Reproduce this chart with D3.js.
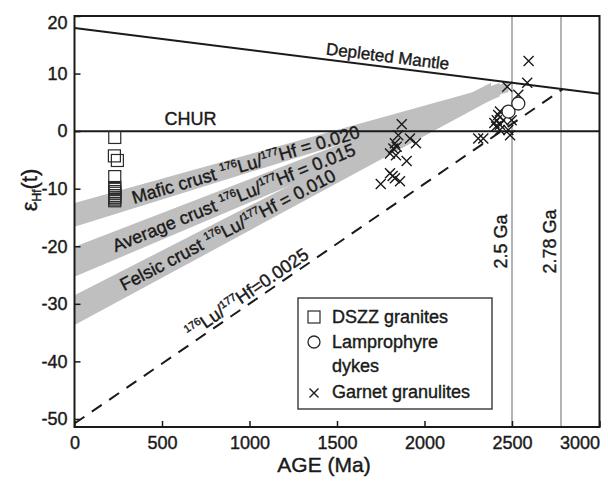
<!DOCTYPE html>
<html><head><meta charset="utf-8">
<script src="https://cdn.jsdelivr.net/npm/d3@7"></script>
<style>
body{margin:0;background:#fff}
svg{display:block}
text{font-family:"Liberation Sans",Arial,Helvetica,sans-serif;fill:#1a1a1a;stroke:#1a1a1a;stroke-width:0.4px}
</style>
</head><body>
<svg id="c" width="608" height="481"></svg>
<script>
// ---------- data ----------
const xTicks=[0,500,1000,1500,2000,2500,3000];
const yTicks=[-50,-40,-30,-20,-10,0,10,20];
const dmAges=[0,3000], dmEps=[17.9,6.5];
const churEps=0;
const lineAges=[0,2790], lineEps=[-50.8,7.3];
const refAges=[2500,2780], refLabels=["2.5 Ga","2.78 Ga"];
const bandNames=["Mafic crust ","Average crust ","Felsic crust "];
const bandRatios=["0.020","0.015","0.010"];
const bandLeftTop=[-12.5,-20.1,-28.5];
const bandLeftBot=[-16.6,-25.3,-33.7];
const bandEndAge=[2480,2430,2380];
const bandEndTop=[8.5,8.4,8.4];
const bandEndBot=[6.8,6.0,5.4];
const bandLabelAge=[329,220,266];
const dszzAge=[230,228,245,230,230,230,230,230,230,230,230,230];
const dszzEps=[-1.1,-4.3,-5.1,-7.9,-9.8,-10.1,-10.5,-10.8,-11.2,-11.5,-11.8,-12.1];
const lampAge=[2480,2536];
const lampEps=[3.4,4.8];
const garnetAge=[1870,1850,1917,1951,1831,1822,1841,1803,1837,1898,1803,1818,1831,1860,1750,
  2595,2473,2587,2536,2431,2413,2399,2431,2450,2498,2489,2307,2336,2431,2421,2479,2409];
const garnetEps=[1.2,-0.7,-1.3,-2.1,-2.1,-3.0,-2.7,-3.9,-4.2,-5.2,-7.3,-7.8,-8.2,-8.7,-9.2,
  12.2,7.7,8.4,6.3,3.4,1.9,1.4,1.1,1.9,1.9,-0.7,-1.3,-1.3,0.2,2.8,0.2,0.8];
const legendLabels=[["DSZZ granites"],["Lamprophyre","dykes"],["Garnet granulites"]];

// ---------- setup ----------
const svg=d3.select("#c");
const L=74.5,R=599.5,T=16,B=427;
const x=d3.scaleLinear().domain([0,3000]).range([L,R]);
const y=d3.scaleLinear().domain([-51.4,20]).range([B,T]);
const ink="#1a1a1a";

// bands
const bandG=svg.append("g");
bandNames.forEach((n,i)=>{
  const pts=[[0,bandLeftTop[i]],[bandEndAge[i],bandEndTop[i]],[bandEndAge[i],bandEndBot[i]],[0,bandLeftBot[i]]];
  bandG.append("path").attr("d",d3.line().x(d=>x(d[0])).y(d=>y(d[1]))(pts)+"Z")
    .attr("fill","#bfbfbf").attr("stroke","none");
});

// reference age lines
refAges.forEach((a,i)=>{
  svg.append("line").attr("x1",x(a)).attr("x2",x(a)).attr("y1",T).attr("y2",B)
    .attr("stroke","#b3b3b3").attr("stroke-width",2);
  svg.append("text").attr("transform",`translate(${x(a)-5},${(T+B)/2+20}) rotate(-90)`)
    .attr("text-anchor","middle").attr("font-size",18).text(refLabels[i]);
});

// CHUR
svg.append("line").attr("x1",x(0)).attr("x2",x(3000)).attr("y1",y(churEps)).attr("y2",y(churEps))
  .attr("stroke",ink).attr("stroke-width",2);
svg.append("text").attr("x",x(663)).attr("y",y(churEps)-6).attr("text-anchor","middle")
  .attr("font-size",18).text("CHUR");

// Depleted mantle
svg.append("line").attr("x1",x(dmAges[0])).attr("y1",y(dmEps[0])).attr("x2",x(dmAges[1])).attr("y2",y(dmEps[1]))
  .attr("stroke",ink).attr("stroke-width",2);
{
  const ang=Math.atan2(y(dmEps[1])-y(dmEps[0]),x(dmAges[1])-x(dmAges[0]))*180/Math.PI;
  const a=1782, e=dmEps[0]+(dmEps[1]-dmEps[0])*(a-dmAges[0])/(dmAges[1]-dmAges[0]);
  svg.append("text").attr("transform",`translate(${x(a)},${y(e)}) rotate(${ang})`)
    .attr("dy",-5).attr("text-anchor","middle").attr("font-size",17).text("Depleted Mantle");
}

// dashed 0.0025 line
svg.append("line").attr("x1",x(lineAges[0])).attr("y1",y(lineEps[0])).attr("x2",x(lineAges[1])).attr("y2",y(lineEps[1]))
  .attr("stroke",ink).attr("stroke-width",2).attr("stroke-dasharray","12,9");

function rich(g,parts,size){
  const t=g.append("text").attr("font-size",size);
  let shift=0;
  parts.forEach(p=>{
    const want=p.sup?-7:0;
    const s=t.append("tspan").text(p.t).attr("dy",want-shift);
    if(p.sup) s.attr("font-size",size*0.6);
    shift=want;
  });
  return t;
}
{
  const ang=Math.atan2(y(lineEps[1])-y(lineEps[0]),x(lineAges[1])-x(lineAges[0]))*180/Math.PI;
  const a=677, e=lineEps[0]+(lineEps[1]-lineEps[0])*a/lineAges[1];
  const g=svg.append("g").attr("transform",`translate(${x(a)},${y(e)}) rotate(${ang}) translate(0,-4)`);
  rich(g,[{t:"176",sup:true},{t:"Lu/"},{t:"177",sup:true},{t:"Hf=0.0025"}],18);
}

// band labels
bandNames.forEach((n,i)=>{
  const c0=(bandLeftTop[i]+bandLeftBot[i])/2, c1=(bandEndTop[i]+bandEndBot[i])/2;
  const ang=Math.atan2(y(c1)-y(c0),x(bandEndAge[i])-x(0))*180/Math.PI;
  const a=bandLabelAge[i], e=c0+(c1-c0)*a/bandEndAge[i];
  const g=svg.append("g").attr("transform",`translate(${x(a)},${y(e)}) rotate(${ang}) translate(0,6.4)`);
  rich(g,[{t:n},{t:"176",sup:true},{t:"Lu/"},{t:"177",sup:true},{t:"Hf = "+bandRatios[i]}],18);
});

// markers
function cross(sel,cx,cy,r){
  sel.append("path").attr("d",`M${cx-r},${cy-r}L${cx+r},${cy+r}M${cx-r},${cy+r}L${cx+r},${cy-r}`)
    .attr("stroke",ink).attr("stroke-width",1.4).attr("fill","none");
}
const mk=svg.append("g");
dszzAge.forEach((a,i)=>{
  mk.append("rect").attr("x",x(a)-6).attr("y",y(dszzEps[i])-6).attr("width",12).attr("height",12)
    .attr("fill","none").attr("stroke","#2a2a2a").attr("stroke-width",1.2);
});
garnetAge.forEach((a,i)=>cross(mk,x(a),y(garnetEps[i]),5));
lampAge.forEach((a,i)=>{
  mk.append("circle").attr("cx",x(a)).attr("cy",y(lampEps[i])).attr("r",6.5)
    .attr("fill","#fff").attr("stroke","#2a2a2a").attr("stroke-width",1.3);
});

// axes
const xa=svg.append("g").attr("transform",`translate(0,${B})`)
  .call(d3.axisBottom(x).tickValues(xTicks).tickSize(-6).tickPadding(9).tickFormat(d=>String(d)));
const ya=svg.append("g").attr("transform",`translate(${L},0)`)
  .call(d3.axisLeft(y).tickValues(yTicks).tickSize(-6).tickPadding(7).tickFormat(d=>String(d)));
[xa,ya].forEach(a=>{
  a.select(".domain").remove();
  a.selectAll("line").attr("stroke",ink).attr("stroke-width",1.5);
  a.selectAll("text").attr("font-size",18).attr("fill",ink).attr("font-family",null);
});
xa.selectAll(".tick").filter(d=>d===3000).select("text").attr("text-anchor","end").attr("x",0);
ya.selectAll(".tick").filter(d=>d===20).select("text").attr("y",6.5);
svg.append("rect").attr("x",L).attr("y",T).attr("width",R-L).attr("height",B-T)
  .attr("fill","none").attr("stroke",ink).attr("stroke-width",2);

svg.append("text").attr("x",(L+R)/2-13).attr("y",472).attr("text-anchor","middle")
  .attr("font-size",21).text("AGE (Ma)");
{
  const t=svg.append("text").attr("transform",`translate(37,190) rotate(-90)`).attr("text-anchor","middle").attr("font-size",22);
  t.append("tspan").text("ε");
  t.append("tspan").text("Hf").attr("font-size",12).attr("dy",4);
  t.append("tspan").text("(t)").attr("dy",-4);
}

// legend
const lg=svg.append("g");
lg.append("rect").attr("x",298).attr("y",298).attr("width",194).attr("height",111)
  .attr("fill","#fff").attr("stroke","#444").attr("stroke-width",1.5);
lg.append("rect").attr("x",308).attr("y",311).attr("width",12).attr("height",12)
  .attr("fill","none").attr("stroke","#2a2a2a").attr("stroke-width",1.2);
lg.append("circle").attr("cx",314).attr("cy",342).attr("r",6)
  .attr("fill","#fff").attr("stroke","#2a2a2a").attr("stroke-width",1.3);
cross(lg,314,393,4.5);
const lgY=[[323],[348,372],[398]];
legendLabels.forEach((ls,i)=>ls.forEach((s,j)=>{
  lg.append("text").attr("x",332).attr("y",lgY[i][j]).attr("font-size",18).text(s);
}));
</script>
</body></html>
